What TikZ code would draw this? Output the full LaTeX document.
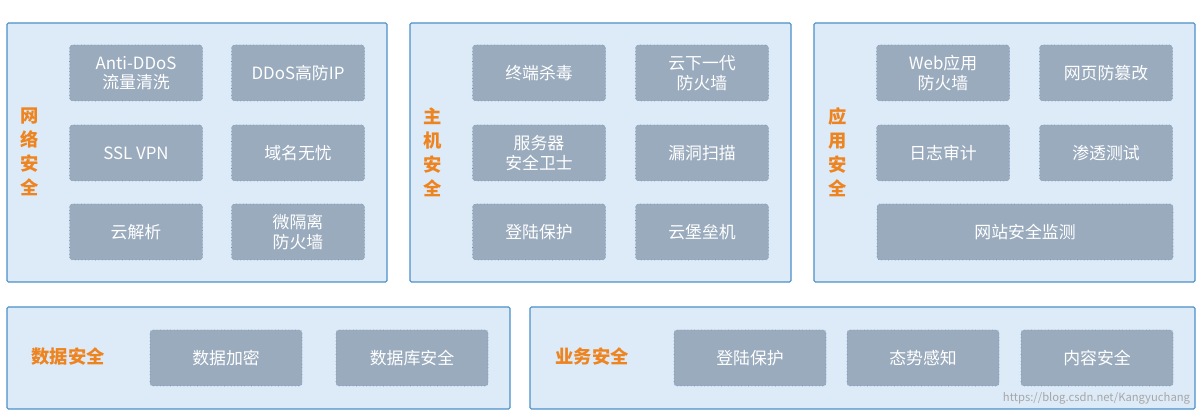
\documentclass[tikz,border=0pt]{standalone}
\usepackage{fontspec}
\setmainfont{Noto Sans CJK SC}
\usetikzlibrary{positioning}
\definecolor{panelfill}{HTML}{DDEBF8}
\definecolor{paneldraw}{HTML}{4A8FC8}
\definecolor{itemfill}{HTML}{9AABBE}
\definecolor{itemdraw}{HTML}{6C93BE}
\definecolor{titlecol}{HTML}{EE8420}
\begin{document}
\begin{tikzpicture}[x=0.025cm,y=-0.025cm]
        \tikzstyle{panel}=[draw=paneldraw,fill=panelfill,line width=0.8pt,rounded corners=1pt]
        \tikzstyle{item}=[draw=itemdraw,fill=itemfill,dotted,rounded corners=2pt,text=white,font=\fontsize{12}{14}\selectfont,align=center,inner sep=0pt]
        \tikzstyle{title}=[text=titlecol,font=\fontsize{13}{17}\selectfont\bfseries,align=center]
        \def \itembox#1#2#3#4#5#6{ \node (#1) [item,minimum width=#4*0.025cm,minimum height=56*0.025cm] at (#2,#3) {#5#6}; }
        \useasboundingbox (0,0) rectangle (1203,418);

        \draw[panel] (7,23) rectangle (387,282);
        \draw[panel] (410,23) rectangle (791,282);
        \draw[panel] (814,23) rectangle (1195,282);
        \draw[panel] (7,307) rectangle (510,409);
        \draw[panel] (530,307) rectangle (1195,409);

        % network
        \node (net) [title] at (30,152) {网\\络\\安\\全};
        \itembox{n1}{136}{73}{133}{Anti-DDoS\\流量清洗}{}
        \itembox{n2}{298}{73}{133}{DDoS高防IP}{}
        \itembox{n3}{136}{153}{133}{SSL VPN}{}
        \itembox{n4}{298}{153}{133}{域名无忧}{}
        \itembox{n5}{136}{232}{133}{云解析}{}
        \itembox{n6}{298}{232}{133}{微隔离\\防火墙}{}

        % host
        \node (host) [title] at (433,152) {主\\机\\安\\全};
        \itembox{h1}{539}{73}{133}{终端杀毒}{}
        \itembox{h2}{702}{73}{133}{云下一代\\防火墙}{}
        \itembox{h3}{539}{153}{133}{服务器\\安全卫士}{}
        \itembox{h4}{702}{153}{133}{漏洞扫描}{}
        \itembox{h5}{539}{232}{133}{登陆保护}{}
        \itembox{h6}{702}{232}{133}{云堡垒机}{}

        % application
        \node (app) [title] at (838,152) {应\\用\\安\\全};
        \itembox{a1}{943}{73}{133}{Web应用\\防火墙}{}
        \itembox{a2}{1106}{73}{133}{网页防篡改}{}
        \itembox{a3}{943}{153}{133}{日志审计}{}
        \itembox{a4}{1106}{153}{133}{渗透测试}{}
        \itembox{a5}{1025}{232}{296}{网站安全监测}{}

        % data
        \node (data) [title] at (68,357) {数据安全};
        \itembox{d1}{226}{358}{152}{数据加密}{}
        \itembox{d2}{412}{358}{152}{数据库安全}{}

        % business
        \node (biz) [title] at (592,357) {业务安全};
        \itembox{b1}{750}{358}{152}{登陆保护}{}
        \itembox{b2}{923}{358}{152}{态势感知}{}
        \itembox{b3}{1097}{358}{152}{内容安全}{}

        \node (mark) [anchor=east,text=black!35,font=\fontsize{8}{9}\selectfont] at (1195,398) {https://blog.csdn.net/Kangyuchang};
\end{tikzpicture}
\end{document}
